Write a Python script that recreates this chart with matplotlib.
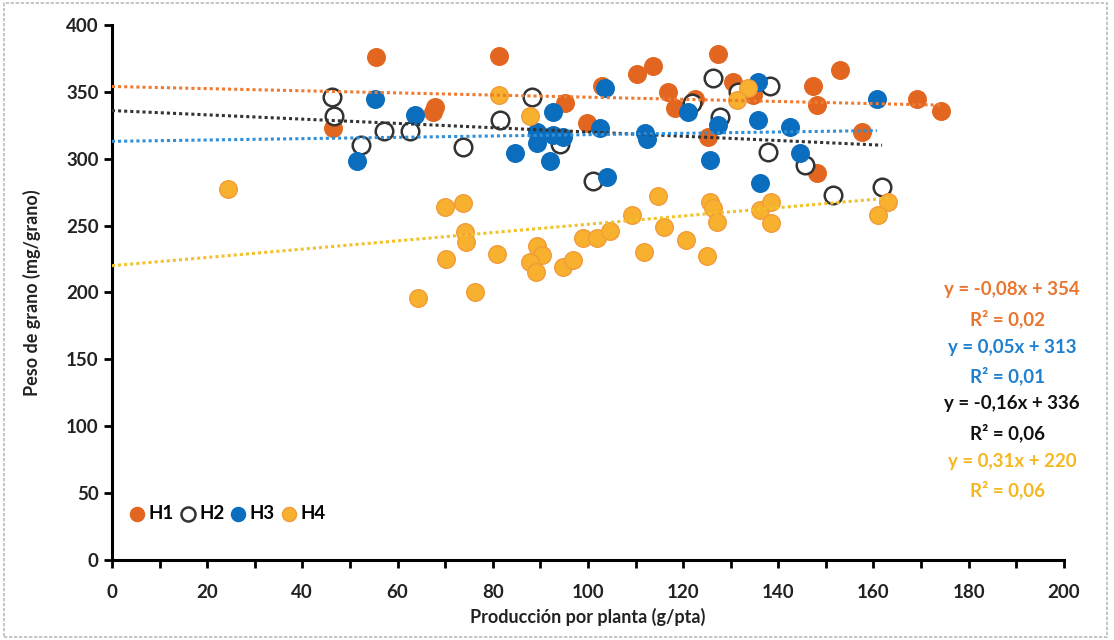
import numpy as np
import matplotlib.pyplot as plt
from matplotlib.patches import Rectangle

plt.rcParams['font.family'] = ['Lato', 'DejaVu Sans']
plt.rcParams['font.weight'] = 'bold'

# producción por planta (g/pta) y peso de grano (mg/grano) por hibrido
h1_x = [55.5, 81.3, 46.4, 67.4, 67.9, 95.2, 103.0, 110.3, 113.7, 99.8, 116.8, 118.3,
        122.5, 127.3, 130.5, 134.7, 125.2, 152.9, 147.3, 148.1, 169.1, 174.2, 157.6, 148.1]
h1_y = [376, 377, 323, 335, 339, 342, 354, 363, 369, 327, 350, 338,
        345, 378, 357, 348, 316, 366, 354, 340, 345, 336, 320, 289]

h2_x = [46.2, 46.6, 52.3, 57.1, 62.6, 73.7, 81.5, 88.2, 94.1, 101.0, 121.8, 126.3,
        131.5, 138.2, 127.7, 137.8, 145.6, 151.5, 161.8]
h2_y = [346, 332, 310, 321, 321, 309, 329, 346, 311, 283, 342, 360,
        350, 354, 331, 305, 295, 273, 279]

h3_x = [55.3, 51.5, 63.7, 84.7, 89.3, 89.3, 92.0, 92.7, 92.7, 94.8, 103.6, 102.5,
        104.0, 112.0, 112.4, 121.0, 127.3, 125.6, 135.7, 135.7, 136.1, 142.4, 144.5, 160.7]
h3_y = [345, 298, 333, 304, 320, 312, 298, 335, 318, 316, 353, 323,
        286, 319, 315, 335, 325, 299, 357, 329, 282, 324, 304, 345]

h4_x = [24.4, 70.0, 73.7, 74.2, 74.4, 70.2, 64.3, 76.3, 80.9, 89.3, 90.3, 87.8,
        89.1, 94.7, 96.8, 99.0, 101.9, 104.6, 109.2, 114.7, 116.0, 111.8, 120.6, 125.0,
        125.6, 126.3, 127.1, 136.1, 138.4, 138.4, 163.0, 160.9, 81.3, 87.8, 133.6, 131.3]
h4_y = [277, 264, 267, 245, 238, 225, 196, 200, 229, 235, 228, 223,
        215, 219, 224, 241, 241, 246, 258, 272, 249, 230, 239, 227,
        268, 263, 253, 262, 268, 252, 268, 258, 348, 332, 353, 344]

nombres = ['H1', 'H2', 'H3', 'H4']
pendientes = [-0.08, -0.16, 0.05, 0.31]
ordenadas = [354, 336, 313, 220]
r2 = [0.02, 0.06, 0.01, 0.06]

series_x = [h1_x, h2_x, h3_x, h4_x]
series_y = [h1_y, h2_y, h3_y, h4_y]

relleno = ['#E2661F', 'white', '#0B6DBD', '#F7B12E']
borde = ['#E2661F', '#333333', '#0B6DBD', '#F39A3A']
col_linea = ['#F07A30', '#333333', '#2F8FD8', '#F2C22A']
col_texto = ['#E8762E', '#111111', '#1F80CF', '#F5B822']

fig = plt.figure(figsize=(11.14, 6.4), dpi=100)
ax = fig.add_axes([0.1005, 0.125, 0.8545, 0.836])

for i in range(4):
    ax.scatter(series_x[i], series_y[i], s=160, c=relleno[i], edgecolors=borde[i],
               linewidths=1.8 if i == 1 else 1.0, zorder=2 + i, label=nombres[i])

# lineas de tendencia
for i in range(4):
    xx = np.array([0, max(series_x[i])])
    ax.plot(xx, pendientes[i] * xx + ordenadas[i], color=col_linea[i], lw=2.2,
            linestyle=(0, (1, 1)), zorder=10)

# ecuaciones en el orden H1, H3, H2, H4
orden = [0, 2, 1, 3]
y_txt = 290
for i in orden:
    signo = '-' if pendientes[i] < 0 else ''
    eq = 'y = %s%sx + %d' % (signo, ('%.2f' % abs(pendientes[i])).replace('.', ','), ordenadas[i])
    rr = 'R² = %s' % ('%.2f' % r2[i]).replace('.', ',')
    fig.text(1012 / 1114, 1 - y_txt / 640, eq, color=col_texto[i], fontsize=13.5,
             fontweight='bold', ha='center', va='center')
    fig.text(1008 / 1114, 1 - (y_txt + 29) / 640, rr, color=col_texto[i], fontsize=13.5,
             fontweight='bold', ha='center', va='center')
    y_txt += 57

ax.set_xlim(0, 200)
ax.set_ylim(0, 400)
ax.set_xticks(np.arange(0, 201, 20))
ax.set_xticks(np.arange(0, 201, 10), minor=True)
ax.set_yticks(np.arange(0, 401, 50))
ax.tick_params(axis='both', labelsize=13.5, width=2, length=6, color='black')
ax.tick_params(axis='x', which='major', pad=11)
ax.tick_params(axis='x', which='minor', width=2, length=6)
for lab in ax.get_xticklabels() + ax.get_yticklabels():
    lab.set_fontweight('bold')
    lab.set_color('#222222')
ax.spines['top'].set_visible(False)
ax.spines['right'].set_visible(False)
ax.spines['left'].set_linewidth(2.2)
ax.spines['bottom'].set_linewidth(2.2)

ax.set_xlabel('Producción por planta (g/pta)', fontsize=13, fontweight='bold', color='#222222', labelpad=5)
ax.set_ylabel('Peso de grano (mg/grano)', fontsize=13, fontweight='bold', color='#222222', labelpad=18)

ax.legend(loc='lower left', bbox_to_anchor=(0.0, 0.04), ncol=4, frameon=False, fontsize=13.5,
          handlelength=0.9, handletextpad=0.15, columnspacing=0.3, markerscale=0.8,
          borderaxespad=0.5)

fig.patches.append(Rectangle((0.004, 0.005), 0.99, 0.99, transform=fig.transFigure, fill=False,
                             edgecolor='#BBBBBB', lw=1.2, linestyle=(0, (2, 1))))

fig.savefig('out.png', dpi=100)
